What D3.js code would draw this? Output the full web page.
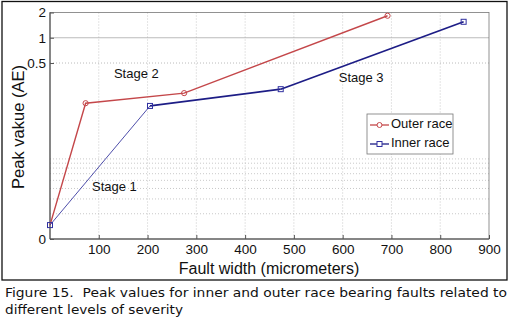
<!DOCTYPE html>
<html><head><meta charset="utf-8">
<script src="https://cdn.jsdelivr.net/npm/d3@7"></script>
<style>body{margin:0;background:#fff}svg{display:block}</style>
</head><body>
<script>
// Data
const widths = [0, 73, 275, 692];
const outerRace = [0.00586, 0.166, 0.219, 1.83];
const innerWidths = [0, 205, 473, 848];
const innerRace = [0.00586, 0.154, 0.244, 1.55];
const xTicks = [100, 200, 300, 400, 500, 600, 700, 800, 900];
const yTickValues = [0.004, 0.5, 1, 2];
const yTickLabels = ["0", "0.5", "1", "2"];
const minorGrid = [0.008, 0.012, 0.016, 0.02, 0.024, 0.028, 0.032, 0.036];
const stages = [
  {label: "Stage 1", x: 132, y: 0.0165},
  {label: "Stage 2", x: 177, y: 0.36},
  {label: "Stage 3", x: 638, y: 0.33}
];
const seriesNames = ["Outer race", "Inner race"];

const W = 512, H = 322;
const svg = d3.select("body").append("svg").attr("width", W).attr("height", H);
const font = "'Liberation Sans', Arial, sans-serif";

// outer frame
svg.append("rect").attr("x", 2).attr("y", 1.5).attr("width", 505).attr("height", 278.5)
  .attr("fill", "none").attr("stroke", "#111").attr("stroke-width", 1.3);

const x = d3.scaleLinear().domain([0, 900]).range([50, 489]);
const y = d3.scaleLog().domain([0.004, 2]).range([239, 12.5]);

const g = svg.append("g");
// grid verticals
g.selectAll(".vg").data(xTicks.slice(0, -1)).join("line")
  .attr("x1", d => x(d)).attr("x2", d => x(d)).attr("y1", y(2)).attr("y2", y(0.004))
  .attr("stroke", "#bbb").attr("stroke-width", 0.8).attr("stroke-dasharray", "1,2");
// minor horizontal grid
g.selectAll(".hg").data(minorGrid).join("line")
  .attr("x1", x(0)).attr("x2", x(900)).attr("y1", d => y(d)).attr("y2", d => y(d))
  .attr("stroke", "#bbb").attr("stroke-width", 0.8).attr("stroke-dasharray", "1,2");
// 0.5 dotted, 1 solid
g.append("line").attr("x1", x(0)).attr("x2", x(900)).attr("y1", y(0.5)).attr("y2", y(0.5))
  .attr("stroke", "#aaa").attr("stroke-width", 0.8).attr("stroke-dasharray", "1,2");
g.append("line").attr("x1", x(0)).attr("x2", x(900)).attr("y1", y(1)).attr("y2", y(1))
  .attr("stroke", "#aaa").attr("stroke-width", 0.8);

// box
g.append("rect").attr("x", x(0)).attr("y", y(2)).attr("width", x(900) - x(0)).attr("height", y(0.004) - y(2))
  .attr("fill", "none").attr("stroke", "#777").attr("stroke-width", 0.8);
g.append("line").attr("x1", x(0)).attr("x2", x(900)).attr("y1", y(0.004)).attr("y2", y(0.004)).attr("stroke", "#444");
g.append("line").attr("x1", x(0)).attr("x2", x(0)).attr("y1", y(2)).attr("y2", y(0.004)).attr("stroke", "#444");

// axes
const xAxis = d3.axisBottom(x).tickValues(xTicks).tickSize(-4).tickPadding(5);
const xa = svg.append("g").attr("transform", `translate(0,${y(0.004)})`).call(xAxis);
xa.select(".domain").remove();
xa.selectAll("line").attr("stroke", "#555");
xa.selectAll("text").attr("font-family", font).attr("font-size", 13.5).attr("fill", "#111");

const yAxis = d3.axisLeft(y).tickValues(yTickValues).tickFormat((d, i) => yTickLabels[i]).tickSize(-4).tickPadding(4);
const ya = svg.append("g").attr("transform", `translate(${x(0)},0)`).call(yAxis);
ya.select(".domain").remove();
ya.selectAll("line").attr("stroke", "#555");
ya.selectAll("text").attr("font-family", font).attr("font-size", 13.5).attr("fill", "#111");

// axis labels
svg.append("text").attr("x", 269).attr("y", 274).attr("text-anchor", "middle")
  .attr("font-family", font).attr("font-size", 16).attr("fill", "#111").text("Fault width (micrometers)");
svg.append("text").attr("transform", "translate(24,127) rotate(-90)").attr("text-anchor", "middle")
  .attr("font-family", font).attr("font-size", 16.5).attr("fill", "#111").text("Peak vakue (AE)");

// series
const red = "#c4474a", blue = "#1d1d86";
const outerPts = widths.map((w, i) => [w, outerRace[i]]);
const innerPts = innerWidths.map((w, i) => [w, innerRace[i]]);
const line = d3.line().x(d => x(d[0])).y(d => y(d[1]));

svg.append("path").datum(outerPts).attr("d", line).attr("fill", "none").attr("stroke", red).attr("stroke-width", 1.4);
svg.selectAll(".seg").data(d3.pairs(innerPts)).join("path")
  .attr("d", d => line(d)).attr("fill", "none").attr("stroke", (d, i) => i === 0 ? "#3a3aa0" : blue)
  .attr("stroke-width", (d, i) => i === 0 ? 0.9 : 1.7);

svg.selectAll(".oc").data(outerPts.slice(1)).join("circle")
  .attr("cx", d => x(d[0])).attr("cy", d => y(d[1])).attr("r", 2.6)
  .attr("fill", "none").attr("stroke", red).attr("stroke-width", 1);
svg.selectAll(".is").data(innerPts).join("rect")
  .attr("x", d => x(d[0]) - 2.5).attr("y", d => y(d[1]) - 2.5).attr("width", 5).attr("height", 5)
  .attr("fill", "none").attr("stroke", "#3030a0").attr("stroke-width", 1);

// stage labels
svg.selectAll(".st").data(stages).join("text")
  .attr("x", d => x(d.x)).attr("y", d => y(d.y)).attr("text-anchor", "middle").attr("dominant-baseline", "middle")
  .attr("font-family", font).attr("font-size", 13).attr("fill", "#111").text(d => d.label);

// legend
const lg = svg.append("g").attr("transform", "translate(367,114)");
lg.append("rect").attr("width", 86).attr("height", 40).attr("fill", "#fff").attr("stroke", "#777").attr("stroke-width", 0.8);
const lcol = [red, blue];
seriesNames.forEach((n, i) => {
  const yy = 11 + i * 19;
  lg.append("line").attr("x1", 3).attr("x2", 22).attr("y1", yy).attr("y2", yy).attr("stroke", lcol[i]).attr("stroke-width", 1.3);
  if (i === 0) lg.append("circle").attr("cx", 12.5).attr("cy", yy).attr("r", 2.5).attr("fill", "#fff").attr("stroke", red);
  else lg.append("rect").attr("x", 10).attr("y", yy - 2.5).attr("width", 5).attr("height", 5).attr("fill", "#fff").attr("stroke", "#3030a0");
  lg.append("text").attr("x", 24).attr("y", yy).attr("dominant-baseline", "middle")
    .attr("font-family", font).attr("font-size", 13).attr("fill", "#111").text(n);
});

// caption
const cap = "'DejaVu Sans', sans-serif";
svg.append("text").attr("x", 5).attr("y", 297).attr("font-family", cap).attr("font-size", 12.5).attr("fill", "#111")
  .style("white-space", "pre")
  .attr("textLength", 502).attr("lengthAdjust", "spacingAndGlyphs")
  .text("Figure 15.  Peak values for inner and outer race bearing faults related to");
svg.append("text").attr("x", 5).attr("y", 314).attr("font-family", cap).attr("font-size", 12.5).attr("fill", "#111")
  .attr("textLength", 178).attr("lengthAdjust", "spacingAndGlyphs")
  .text("different levels of severity");
</script>
</body></html>
